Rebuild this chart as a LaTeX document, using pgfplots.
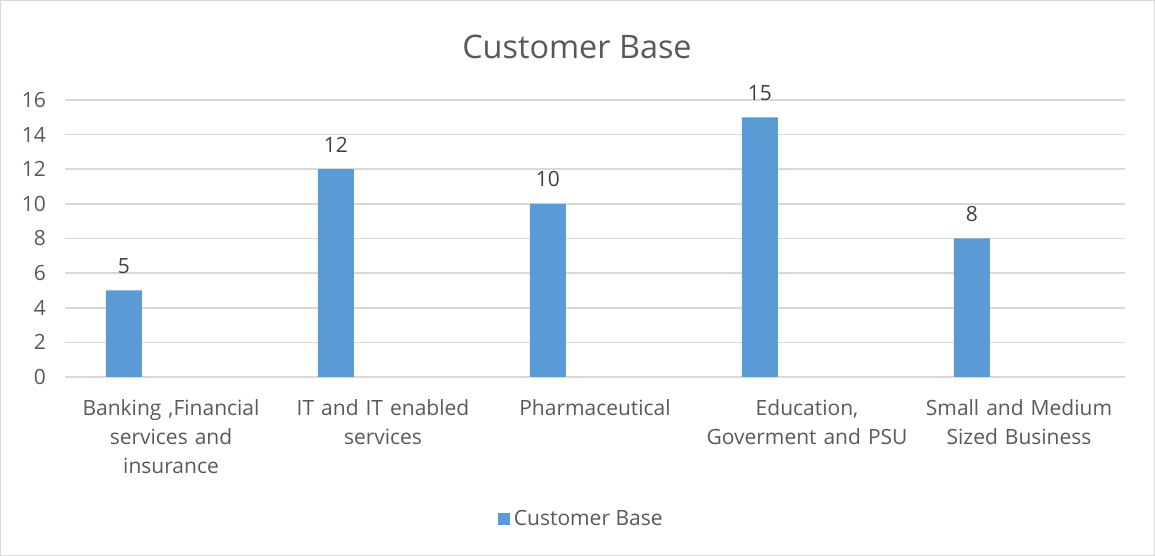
\documentclass[border=0pt]{standalone}
\usepackage{pgfplots}
\pgfplotsset{compat=1.18}
\usepackage{fontspec}
\setmainfont{Open Sans}
\definecolor{barblue}{HTML}{5B9BD5}
\definecolor{gridgray}{HTML}{D9D9D9}
\definecolor{txtgray}{HTML}{595959}
\definecolor{lblgray}{HTML}{404040}
\begin{document}
\begin{tikzpicture}
\draw[gridgray, line width=0.5pt] (0.25pt,0.25pt) rectangle (577.25pt,277.75pt);
\begin{axis}[
  at={(32.5pt,89.5pt)}, anchor=south west,
  scale only axis, width=530pt, height=138.5pt,
  xmin=-0.5, xmax=4.5, ymin=0, ymax=16,
  ytick={0,2,...,16},
  xtick={0,1,2,3,4},
  xticklabels={{Banking ,Financial\\services and\\insurance},{IT and IT enabled\\services},{Pharmaceutical},{Education,\\Goverment and PSU},{Small and Medium\\Sized Business}},
  xticklabel style={align=center, text width=104pt, font=\fontsize{10.5}{14.5}\selectfont, text=txtgray, yshift=-7.5pt},
  yticklabel style={font=\fontsize{10.5}{12}\selectfont, text=txtgray, xshift=-6pt},
  /pgf/number format/assume math mode=true,
  major tick length=0pt,
  ymajorgrids, grid style={gridgray, line width=0.8pt},
  axis x line*=bottom, axis y line*=left,
  x axis line style={gridgray, line width=0.8pt},
  y axis line style={draw=none},
  ybar, bar width=0.17, bar shift=-0.222,
  nodes near coords,
  nodes near coords style={font=\fontsize{10.5}{12}\selectfont, text=lblgray, yshift=5pt},
  title={Customer Base},
  title style={at={(0.483,1.191)}, anchor=center, yshift=-6pt, font=\fontsize{16.2}{19}\selectfont, text=txtgray},
  legend style={at={(0.488,-0.513)}, anchor=center, draw=none, font=\fontsize{10.5}{12}\selectfont, text=txtgray},
  legend image code/.code={\fill[#1] (-2pt,-3pt) rectangle (4pt,3pt);},
  clip=false,
]
\addplot[fill=barblue, draw=none] coordinates {(0,5) (1,12) (2,10) (3,15) (4,8)};
\addlegendentry{Customer Base}
\end{axis}
\end{tikzpicture}
\end{document}
